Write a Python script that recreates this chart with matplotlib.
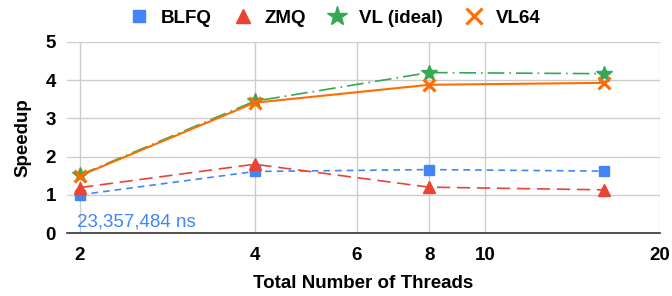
import numpy as np
import matplotlib
matplotlib.use('Agg')
from matplotlib import pyplot as plt
from matplotlib.ticker import FixedLocator, NullLocator

plt.rcParams['font.family'] = ['Liberation Sans', 'DejaVu Sans']

threads = [2, 4, 8, 16]
blfq = [1.0, 1.61, 1.66, 1.62]
zmq = [1.19, 1.80, 1.20, 1.13]
vl_ideal = [1.52, 3.45, 4.20, 4.17]
vl64 = [1.50, 3.41, 3.88, 3.93]
xticks = [2, 4, 6, 8, 10, 20]
yticks = [0, 1, 2, 3, 4, 5]
note = '23,357,484 ns'

fs = 13.5

fig = plt.figure(figsize=(6.72, 2.96), dpi=100)
ax = fig.add_axes([67 / 672, 63 / 296, 593 / 672, 191 / 296])

ax.plot(threads, blfq, color='#4285F4', ls=(0, (4, 3)), lw=1.2, marker='s', ms=7, label='BLFQ')
ax.plot(threads, zmq, color='#EA4335', ls=(0, (8, 4)), lw=1.2, marker='^', ms=8, label='ZMQ')
ax.plot(threads, vl_ideal, color='#34A853', ls=(0, (10, 3, 1, 3)), lw=1.2, marker='*', ms=12, label='VL (ideal)')
ax.plot(threads, vl64, color='#FF6D01', ls='-', lw=1.5, marker='x', ms=9, mew=2.2, label='VL64')

ax.set_xscale('log')
ax.set_xlim(1.9, 20)
ax.set_ylim(0, 5)
ax.xaxis.set_major_locator(FixedLocator(xticks))
ax.xaxis.set_minor_locator(NullLocator())
ax.set_xticklabels([str(t) for t in xticks])
ax.set_yticks(yticks)
ax.grid(True, color='#cccccc', lw=1)
ax.set_axisbelow(True)
for s in ['top', 'right', 'left']:
    ax.spines[s].set_visible(False)
ax.spines['bottom'].set_color('#333333')
ax.spines['bottom'].set_linewidth(1.2)
ax.tick_params(axis='x', length=0, labelsize=fs, pad=10)
ax.tick_params(axis='y', length=0, labelsize=fs, pad=8)
for lab in ax.get_xticklabels() + ax.get_yticklabels():
    lab.set_fontweight('bold')

ax.set_xlabel('Total Number of Threads', fontsize=fs, fontweight='bold', labelpad=8)
ax.set_ylabel('Speedup', fontsize=fs, fontweight='bold', labelpad=10)

ax.text(1.98, 0.28, note, color='#4285F4', fontsize=fs, ha='left', va='center')

leg = fig.legend(*ax.get_legend_handles_labels(), loc='center', bbox_to_anchor=(0.5, 1 - 18 / 296),
                 ncol=4, frameon=False, handlelength=0.8, columnspacing=1.25, handletextpad=0.77,
                 markerscale=1.25, prop={'weight': 'bold', 'size': fs})
for h in leg.legend_handles:
    h.set_linestyle('none')

fig.savefig('out.png', dpi=100)
